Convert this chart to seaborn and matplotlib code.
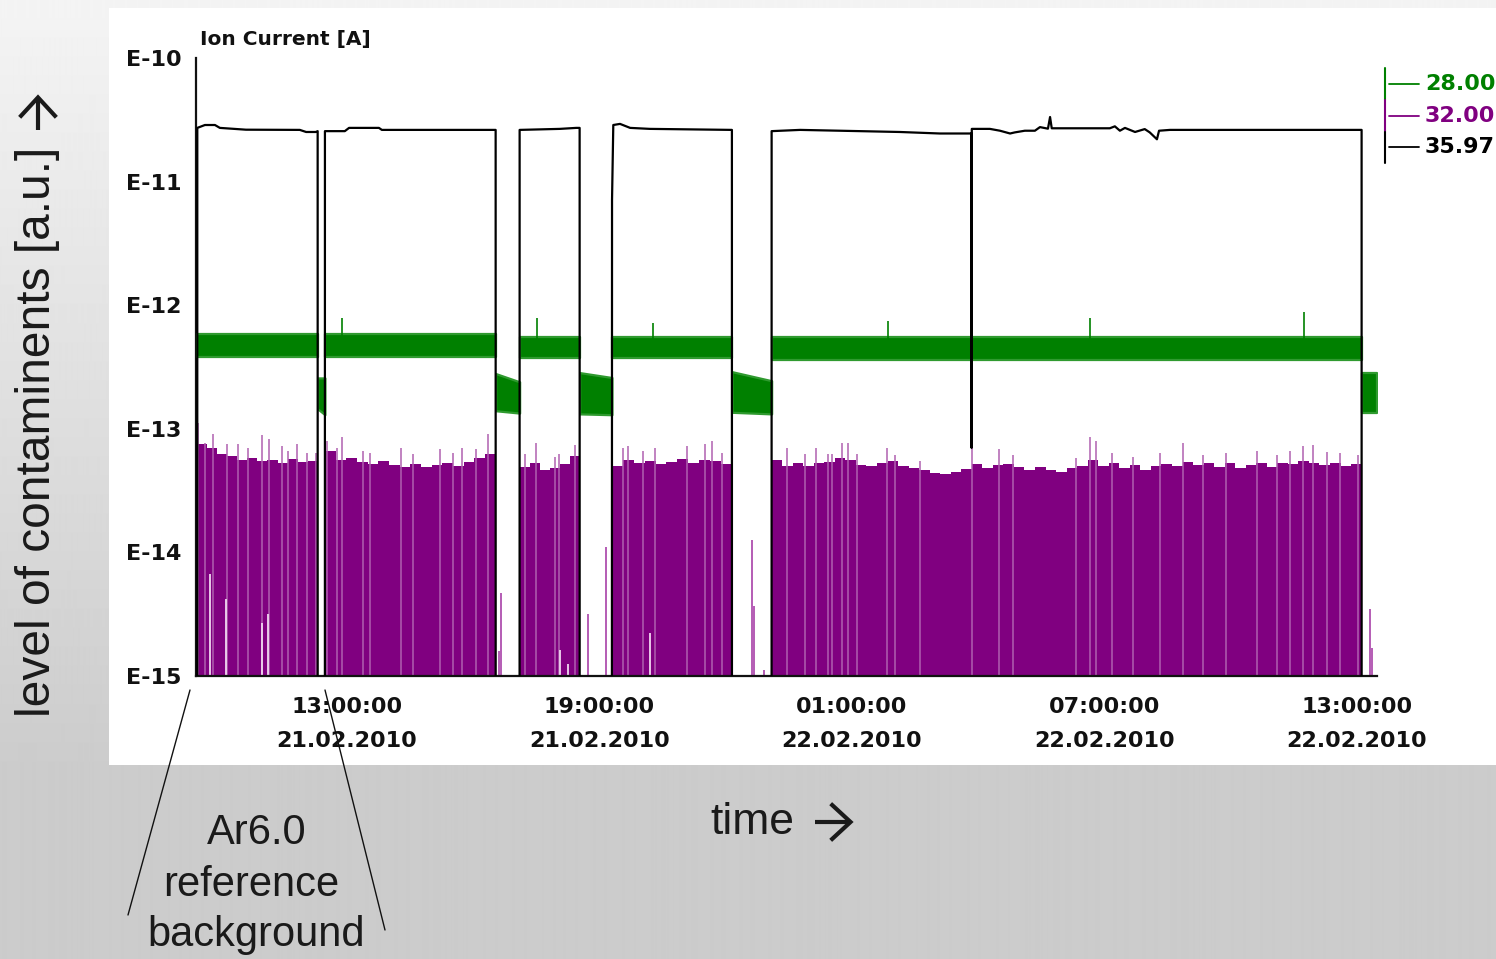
import numpy as np
import pandas as pd
import matplotlib
matplotlib.use("Agg")
import matplotlib.pyplot as plt
import seaborn as sns
from matplotlib.lines import Line2D
from matplotlib.patches import Rectangle, FancyArrowPatch
from matplotlib.ticker import FixedLocator, FixedFormatter, NullFormatter

# ---------------- data (time in hours after 21.02.2010 00:00) ----------------
SEG_ON = [9.443, 12.477, 17.104, 19.298, 23.093]     # gas flow on
SEG_OFF = [12.304, 16.534, 18.530, 22.149, 37.114]   # gas flow off
T_START, T_END = 9.42, 37.48

# mass 32.00 (purple): upper edge of the dense signal, unit 1e-14 A, ~15 min steps
P32_SEG1 = [7.6, 7.0, 6.3, 6.0, 5.6, 5.8, 5.5, 5.6, 5.3, 5.7, 5.4, 5.5]
P32_SEG2 = [6.6, 5.6, 5.8, 5.4, 5.2, 5.5, 5.1, 4.9, 5.2, 4.9, 5.1, 5.3, 5.0, 5.4, 5.8, 6.3]
P32_SEG3 = [4.9, 5.3, 4.6, 4.8, 5.2, 6.0]
P32_SEG4 = [5.0, 5.6, 5.3, 5.5, 5.2, 5.4, 5.7, 5.3, 5.6, 5.5, 5.2]
P32_SEG5 = [5.6, 5.0, 5.3, 5.0, 5.3, 5.4, 5.8, 5.6, 5.1, 5.0, 5.3, 5.5, 5.0, 4.8,
            4.6, 4.4, 4.3, 4.5, 4.7, 5.2, 4.8, 5.1, 5.2, 4.9, 4.6, 4.9, 4.6, 4.5,
            4.8, 5.0, 5.6, 5.0, 5.3, 4.8, 5.1, 4.6, 5.0, 5.2, 5.0, 5.4, 5.1, 5.3,
            4.9, 5.3, 4.8, 5.1, 5.3, 4.9, 5.3, 5.2, 5.5, 5.3, 5.1, 5.3, 5.0, 5.2]
P32_SEGS = [P32_SEG1, P32_SEG2, P32_SEG3, P32_SEG4, P32_SEG5]

# mass 32 single peaks above the dense signal (time h, value 1e-14 A)
P32_PEAK_T = [9.459, 9.625, 9.816, 10.149, 10.410, 10.647, 10.980, 11.146, 11.455, 11.598,
              11.812, 12.049, 12.263, 12.525, 12.762, 12.881, 13.380, 13.547, 14.283, 14.568,
              15.210, 15.519, 15.733, 16.066, 16.351, 17.230, 17.491, 17.943, 18.038, 18.418,
              19.559, 19.678, 20.034, 20.319, 21.080, 21.508, 21.674, 21.912, 23.456, 23.884,
              24.145, 24.431, 24.526, 24.763, 24.906, 25.120, 25.833, 26.023, 26.617, 27.853,
              28.494, 28.827, 30.324, 30.657, 30.799, 31.179, 31.678, 32.320, 32.867, 33.342,
              33.889, 34.626, 35.101, 35.410, 35.719, 35.957, 36.289, 36.598, 37.026]
P32_PEAK_V = [11.2, 7.7, 9.1, 7.6, 7.6, 7.0, 8.9, 8.3, 7.3, 6.6,
              7.6, 6.4, 6.4, 8.0, 7.0, 8.6, 6.6, 6.4, 7.0, 6.3,
              6.9, 6.4, 7.0, 6.9, 9.1, 6.3, 7.7, 5.9, 6.3, 7.4,
              7.0, 7.3, 6.6, 7.0, 7.3, 7.6, 8.0, 6.4, 7.0, 6.3,
              7.0, 6.3, 6.3, 7.7, 7.7, 6.3, 7.0, 6.1, 5.5, 7.0,
              6.9, 6.1, 5.8, 8.6, 8.0, 6.4, 5.9, 6.4, 7.7, 6.1,
              6.4, 6.6, 6.1, 6.6, 7.2, 7.4, 6.5, 6.4, 6.1]
# mass 32 short drop-outs inside the dense signal (time h, value 1e-14 A)
P32_DROP_T = [9.744, 10.117, 10.973, 11.116, 18.062, 18.245, 20.200]
P32_DROP_V = [0.67, 0.42, 0.27, 0.32, 0.163, 0.125, 0.224]
# mass 32 isolated readings during gas-off periods (time h, value 1e-14 A)
P32_OFF_T = [16.612, 16.660, 18.720, 19.148, 22.617, 22.672, 22.910, 37.311, 37.359]
P32_OFF_V = [0.16, 0.47, 0.32, 1.11, 1.26, 0.37, 0.112, 0.35, 0.169]

# mass 28.00 (green): noise band per gas-on segment (A)
G28_ON_UP = [5.82e-13, 5.85e-13, 5.53e-13, 5.53e-13, 5.50e-13]
G28_ON_LO = [3.79e-13, 3.81e-13, 3.74e-13, 3.74e-13, 3.62e-13]
# mass 28 band during gas-off periods (start/end of each period)
G28_OFF_T0 = [12.304, 16.534, 18.530, 22.149, 37.114]
G28_OFF_T1 = [12.477, 17.104, 19.298, 23.093, 37.470]
G28_OFF_UP0 = [2.58e-13, 2.80e-13, 2.85e-13, 2.90e-13, 2.83e-13]
G28_OFF_UP1 = [2.58e-13, 2.40e-13, 2.60e-13, 2.45e-13, 2.83e-13]
G28_OFF_LO0 = [1.45e-13, 1.40e-13, 1.32e-13, 1.36e-13, 1.35e-13]
G28_OFF_LO1 = [1.30e-13, 1.34e-13, 1.30e-13, 1.32e-13, 1.35e-13]
# mass 28 single peaks (time h, A)
G28_PEAK_T = [12.880, 17.517, 20.273, 25.857, 30.657, 35.742]
G28_PEAK_V = [7.9e-13, 7.9e-13, 7.2e-13, 7.5e-13, 7.9e-13, 8.8e-13]

# mass 35.97 (black): trace, unit 1e-11 A
LOW = 5e-5
B36_T = [9.443, 9.444, 9.625, 9.863, 9.98, 10.6, 11.88, 12.03, 12.26, 12.304, 12.305,
         12.476, 12.477, 12.95, 13.05, 13.76, 13.83, 16.534, 16.535,
         17.103, 17.104, 18.06, 18.45, 18.530, 18.531,
         19.297, 19.300, 19.33, 19.49, 19.73, 20.2, 22.149, 22.150,
         23.092, 23.093, 23.77, 25.19, 26.14, 27.09, 27.84, 27.845, 27.85, 28.28,
         28.52, 28.76, 28.87, 29.11, 29.35, 29.47, 29.66, 29.71, 29.75, 31.13,
         31.25, 31.37, 31.49, 31.73, 31.96, 32.08, 32.25, 32.30, 32.56, 37.114,
         37.115, 37.47]
B36_V = [LOW, 2.72, 2.87, 2.87, 2.72, 2.63, 2.62, 2.52, 2.52, 2.56, LOW,
         LOW, 2.56, 2.56, 2.72, 2.72, 2.62, 2.62, LOW,
         LOW, 2.62, 2.67, 2.72, 2.72, LOW,
         LOW, 0.71, 2.87, 2.93, 2.72, 2.67, 2.62, LOW,
         LOW, 2.56, 2.62, 2.56, 2.52, 2.45, 2.45, 0.007, 2.67, 2.67,
         2.58, 2.45, 2.50, 2.58, 2.58, 2.76, 2.68, 3.33, 2.70, 2.70,
         2.80, 2.58, 2.72, 2.52, 2.66, 2.50, 2.20, 2.58, 2.62, 2.62,
         LOW, LOW]

X_MAJOR = [10, 13, 16, 19, 22, 25, 28, 31, 34, 37]
X_LABELS = ["", "13:00:00\n21.02.2010", "", "19:00:00\n21.02.2010", "",
            "01:00:00\n22.02.2010", "", "07:00:00\n22.02.2010", "", "13:00:00\n22.02.2010"]
Y_MAJOR = [1e-15, 1e-14, 1e-13, 1e-12, 1e-11, 1e-10]
Y_LABELS = ["E-15", "E-14", "E-13", "E-12", "E-11", "E-10"]
Y_MINOR = [5e-15, 5e-14, 5e-13, 5e-12, 5e-11]
LEG_LABELS = ["28.00", "32.00", "35.97"]

GREEN, PURPLE, BLACK = "#008000", "#800080", "#000000"
LEG_COLORS = [GREEN, PURPLE, BLACK]

# ---------------- figure ----------------
sns.set_style("white")
plt.rcParams["font.family"] = ["DejaVu Sans"]
W, H = 1496, 959
fig = plt.figure(figsize=(W / 100, H / 100), dpi=100)

def fx(x):
    return x / W

def fy(y):
    return 1 - y / H

# slide background gradient
bg = fig.add_axes([0, 0, 1, 1], zorder=-10)
bg.axis("off")
rows = np.arange(H)
shade = np.where(rows < 765, 244 - (244 - 204) * rows / 765.0, 204) / 255.0
bg.imshow(np.repeat(shade[:, None], 4, axis=1), cmap="gray", vmin=0, vmax=1,
          aspect="auto", extent=[0, 1, 0, 1], interpolation="bilinear")
fig.patches.append(Rectangle((fx(109), fy(765)), fx(1496) - fx(109), fy(8) - fy(765),
                             transform=fig.transFigure, facecolor="white",
                             edgecolor="none", zorder=-5))

ax = fig.add_axes([fx(196.3), fy(676), fx(1377) - fx(196.3), fy(58) - fy(676)])
ax.set_facecolor("none")
ax.set_yscale("log")

# purple dense signal
for on, off, vals in zip(SEG_ON, SEG_OFF, P32_SEGS):
    edges = np.linspace(on, off, len(vals) + 1)
    top = np.array(vals + [vals[-1]]) * 1e-14
    ax.fill_between(edges, 1e-16, top, step="post", color=PURPLE, lw=0, zorder=2)
ax.vlines(P32_PEAK_T, 1e-16, np.array(P32_PEAK_V) * 1e-14, color="#b060b0", lw=1.1, zorder=2)
ax.vlines(P32_DROP_T, 1e-16, np.array(P32_DROP_V) * 1e-14, color="#f0d8f0", lw=1.3, zorder=2.1)
ax.vlines(P32_OFF_T, 1e-16, np.array(P32_OFF_V) * 1e-14, color="#a030a0", lw=1.1, zorder=2)

# green band
for on, off, up, lo in zip(SEG_ON, SEG_OFF, G28_ON_UP, G28_ON_LO):
    ax.fill_between([on, off], [lo, lo], [up, up], fc=GREEN, lw=1.6, ec="#2f9a2f", zorder=3)
for t0, t1, u0, u1, l0, l1 in zip(G28_OFF_T0, G28_OFF_T1, G28_OFF_UP0, G28_OFF_UP1,
                                  G28_OFF_LO0, G28_OFF_LO1):
    ax.fill_between([t0, t1], [l0, l1], [u0, u1], fc=GREEN, lw=1.6, ec="#2f9a2f", zorder=3)
ax.vlines(G28_PEAK_T, 4.5e-13, G28_PEAK_V, color=GREEN, lw=1.2, zorder=3)

# black trace
df_b = pd.DataFrame({"t": B36_T, "I": np.array(B36_V) * 1e-11})
sns.lineplot(data=df_b, x="t", y="I", color=BLACK, lw=1.6, estimator=None, sort=False,
             ax=ax, legend=False, zorder=4)

ax.set_xlim(T_START, T_END)
ax.set_ylim(1e-15, 1e-10)
ax.set_xlabel("")
ax.set_ylabel("")

for s in ["top", "right"]:
    ax.spines[s].set_visible(False)
for s in ["left", "bottom"]:
    ax.spines[s].set_color("#111111")
    ax.spines[s].set_linewidth(1.6)

ax.yaxis.set_major_locator(FixedLocator(Y_MAJOR))
ax.yaxis.set_major_formatter(FixedFormatter(Y_LABELS))
ax.yaxis.set_minor_locator(FixedLocator(Y_MINOR))
ax.yaxis.set_minor_formatter(NullFormatter())
ax.xaxis.set_major_locator(FixedLocator(X_MAJOR))
ax.xaxis.set_major_formatter(FixedFormatter(X_LABELS))
ax.xaxis.set_minor_locator(FixedLocator(list(range(10, 38))))
ax.xaxis.set_minor_formatter(NullFormatter())

ax.tick_params(axis="y", which="major", direction="out", length=7.5, width=1.3,
               color="#111111", pad=3, labelsize=16)
ax.tick_params(axis="y", which="minor", direction="out", length=4.5, width=1.3, color="#111111")
ax.tick_params(axis="x", which="major", direction="out", length=8, width=1.3,
               color="#111111", pad=7, labelsize=16)
ax.tick_params(axis="x", which="minor", direction="out", length=5.5, width=1.3, color="#111111")
for lab in ax.get_xticklabels() + ax.get_yticklabels():
    lab.set_fontweight("bold")
    lab.set_color("#111111")
for lab in ax.get_xticklabels():
    lab.set_linespacing(1.9)

fig.text(fx(200), fy(45), "Ion Current [A]", fontsize=14.5, fontweight="bold",
         color="#111111", ha="left", va="baseline")

# legend (right, outside the plot)
leg_y = [84, 116, 147]
bar_y = [68, 100, 132, 163]
for i, (c, lab, yy) in enumerate(zip(LEG_COLORS, LEG_LABELS, leg_y)):
    fig.add_artist(Line2D([fx(1385), fx(1385)], [fy(bar_y[i]), fy(bar_y[i + 1])],
                          color=c, lw=1.5, transform=fig.transFigure))
    fig.add_artist(Line2D([fx(1389), fx(1419)], [fy(yy), fy(yy)], color=c, lw=1.3,
                          transform=fig.transFigure))
    fig.text(fx(1425), fy(yy), lab, color=c, fontsize=16, fontweight="bold",
             ha="left", va="center")

# slide annotations
SANS = ["Liberation Sans", "DejaVu Sans"]
INK = "#1a1a1a"
fig.text(fx(38), fy(432), "level of contaminents [a.u.]", rotation=90, fontsize=34.5,
         family=SANS, color=INK, ha="center", va="center")
fig.text(fx(752), fy(822), "time", fontsize=32, family=SANS, color=INK,
         ha="center", va="center")
for (x0, y0, x1, y1) in [(38, 130, 38, 93), (815, 822, 855, 822)]:
    fig.add_artist(FancyArrowPatch((fx(x0), fy(y0)), (fx(x1), fy(y1)),
                                   transform=fig.transFigure, color=INK, lw=3.0,
                                   arrowstyle="->,head_length=0.65,head_width=0.6",
                                   mutation_scale=22, shrinkA=0, shrinkB=1,
                                   joinstyle="miter", capstyle="butt"))
for txt, xx, yy in zip(["Ar6.0", "reference", "background"], [257, 251, 256], [833, 885, 935]):
    fig.text(fx(xx), fy(yy), txt, fontsize=30, family=SANS, color=INK,
             ha="center", va="center")
fig.add_artist(Line2D([fx(128), fx(190)], [fy(915), fy(690)], color="#111111", lw=1.0,
                      transform=fig.transFigure))
fig.add_artist(Line2D([fx(385), fx(325)], [fy(930), fy(690)], color="#111111", lw=1.0,
                      transform=fig.transFigure))

fig.savefig("out.png", dpi=100)
